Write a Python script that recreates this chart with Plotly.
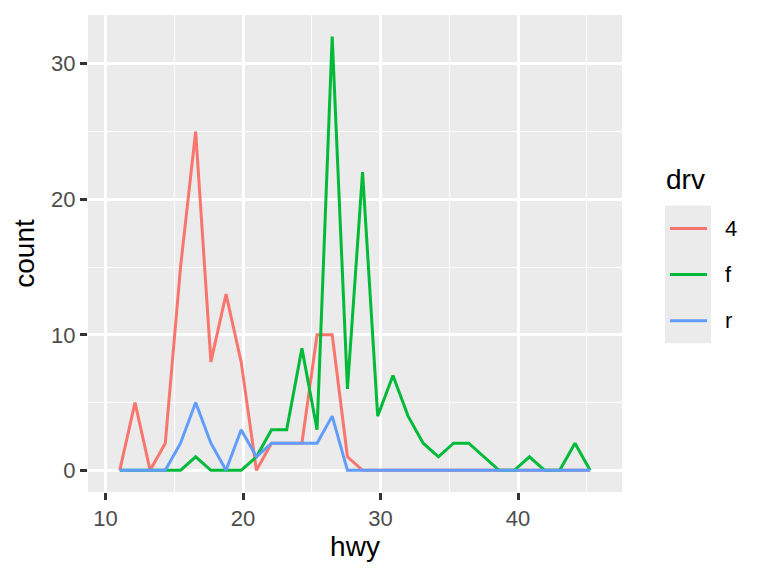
import plotly.graph_objects as go

# bin centres (hwy) of the frequency polygon
hwy_bins = [11.03, 12.14, 13.24, 14.34, 15.45, 16.55, 17.66, 18.76, 19.86, 20.97,
            22.07, 23.17, 24.28, 25.38, 26.48, 27.59, 28.69, 29.79, 30.90, 32.00,
            33.10, 34.21, 35.31, 36.41, 37.52, 38.62, 39.72, 40.83, 41.93, 43.03,
            44.14, 45.24]
drv_levels = ["4", "f", "r"]
count_4 = [0, 5, 0, 2, 15, 25, 8, 13, 8, 0, 2, 2, 2, 10, 10, 1, 0, 0, 0, 0,
           0, 0, 0, 0, 0, 0, 0, 0, 0, 0, 0, 0]
count_f = [0, 0, 0, 0, 0, 1, 0, 0, 0, 1, 3, 3, 9, 3, 32, 6, 22, 4, 7, 4,
           2, 1, 2, 2, 1, 0, 0, 1, 0, 0, 2, 0]
count_r = [0, 0, 0, 0, 2, 5, 2, 0, 3, 1, 2, 2, 2, 2, 4, 0, 0, 0, 0, 0,
           0, 0, 0, 0, 0, 0, 0, 0, 0, 0, 0, 0]
colors = ["#F8766D", "#00BA38", "#619CFF"]
x_ticks = [10, 20, 30, 40]
y_ticks = [0, 10, 20, 30]

W, H = 768, 576
L, R, T, B = 88, 622, 14.5, 491.7
pw, ph = R - L, B - T

fig = go.Figure()
for lvl, ys, c in zip(drv_levels, [count_4, count_f, count_r], colors):
    fig.add_trace(go.Scatter(x=hwy_bins, y=ys, mode="lines", name=lvl,
                             line=dict(color=c, width=3), showlegend=False,
                             hoverinfo="x+y+name"))

def px(x):
    return (x - L) / pw

def py(y):
    return (B - y) / ph

font = "Liberation Sans, Arial, Helvetica, sans-serif"
shapes = [dict(type="rect", xref="paper", yref="paper", x0=px(665), x1=px(711),
               y0=py(343), y1=py(205), fillcolor="#EBEBEB", line=dict(width=0),
               layer="below")]
annotations = [dict(text="drv", xref="paper", yref="paper", x=px(664), y=py(179),
                    xanchor="left", yanchor="middle", showarrow=False,
                    font=dict(family=font, size=28, color="black"))]
for i, (lvl, c) in enumerate(zip(drv_levels, colors)):
    yk = 228 + i * 46.2
    shapes.append(dict(type="line", xref="paper", yref="paper", x0=px(670), x1=px(707),
                       y0=py(yk), y1=py(yk), line=dict(color=c, width=3)))
    annotations.append(dict(text=lvl, xref="paper", yref="paper", x=px(723), y=py(yk),
                            xanchor="left", yanchor="middle", showarrow=False,
                            font=dict(family=font, size=22, color="black")))

axis_common = dict(showgrid=True, gridcolor="white", gridwidth=2.5, zeroline=False,
                   ticks="outside", ticklen=7, tickwidth=2.5, tickcolor="#333333",
                   tickfont=dict(family=font, size=22, color="#4D4D4D"),
                   showline=False, automargin=False)

fig.update_layout(
    width=W, height=H,
    margin=dict(l=L, r=W - R, t=T, b=H - B, pad=0),
    paper_bgcolor="white", plot_bgcolor="#EBEBEB",
    shapes=shapes, annotations=annotations, showlegend=False,
    xaxis=dict(range=[8.72, 47.56], tickvals=x_ticks,
               minor=dict(dtick=5, tick0=0, showgrid=True, gridcolor="white",
                          gridwidth=1.3, ticks=""),
               title=dict(text="hwy", standoff=4,
                          font=dict(family=font, size=28, color="black")),
               **axis_common),
    yaxis=dict(range=[-1.6, 33.6], tickvals=y_ticks,
               minor=dict(dtick=5, tick0=0, showgrid=True, gridcolor="white",
                          gridwidth=1.3, ticks=""),
               title=dict(text="count", standoff=8,
                          font=dict(family=font, size=28, color="black")),
               **axis_common),
)

fig.write_html("out.html", config={"displayModeBar": False},
               post_script="document.body.style.margin='0';document.body.style.overflow='hidden';")
